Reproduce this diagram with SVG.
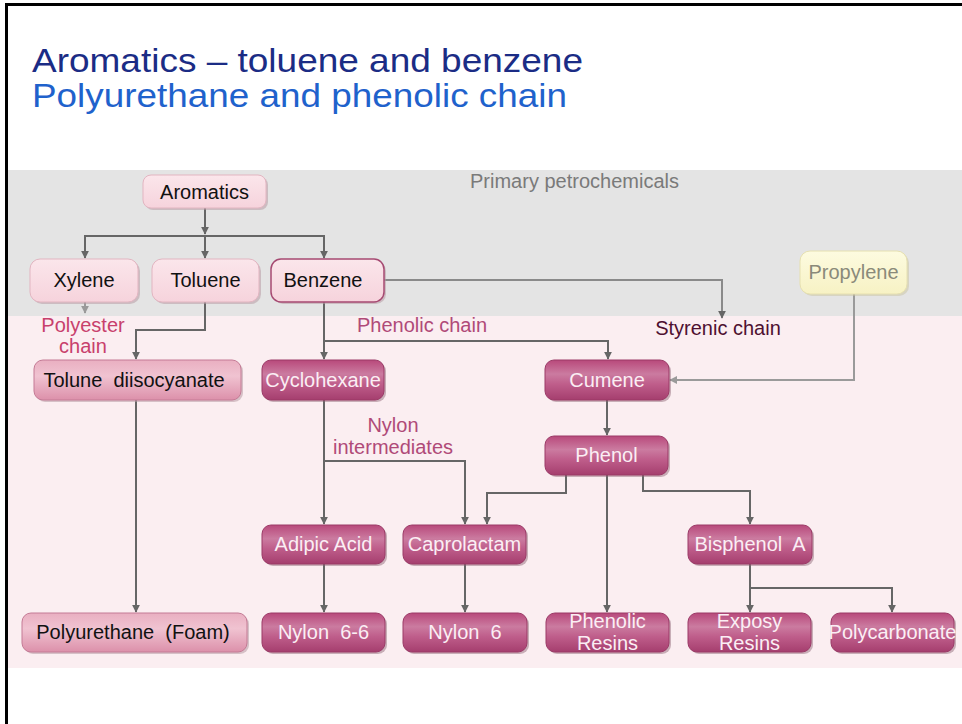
<svg xmlns="http://www.w3.org/2000/svg" width="962" height="724" viewBox="0 0 962 724">
  <defs>
    <linearGradient id="gDark" x1="0" y1="0" x2="0" y2="1">
      <stop offset="0" stop-color="#b8497b"/>
      <stop offset="0.35" stop-color="#cb7ba0"/>
      <stop offset="0.6" stop-color="#bf5e8b"/>
      <stop offset="1" stop-color="#a53e6e"/>
    </linearGradient>
    <linearGradient id="gMid" x1="0" y1="0" x2="0" y2="1">
      <stop offset="0" stop-color="#e9afc1"/>
      <stop offset="0.4" stop-color="#f0c3d1"/>
      <stop offset="1" stop-color="#dc90aa"/>
    </linearGradient>
    <linearGradient id="gLight" x1="0" y1="0" x2="0" y2="1">
      <stop offset="0" stop-color="#fbe6eb"/>
      <stop offset="1" stop-color="#f6d3dc"/>
    </linearGradient>
    <linearGradient id="gYellow" x1="0" y1="0" x2="0" y2="1">
      <stop offset="0" stop-color="#fdfbe0"/>
      <stop offset="1" stop-color="#f7f2c4"/>
    </linearGradient>
    <marker id="arr" viewBox="0 0 10 10" refX="9" refY="5" markerWidth="4" markerHeight="4" orient="auto">
      <path d="M0,0 L10,5 L0,10 z" fill="#666"/>
    </marker>
    <marker id="arrL" viewBox="0 0 10 10" refX="9" refY="5" markerWidth="4" markerHeight="4" orient="auto">
      <path d="M0,0 L10,5 L0,10 z" fill="#9a9a9a"/>
    </marker>
  </defs>
  <style>
    .t { font-family: "Liberation Sans", Arial, sans-serif; }
    .nt { font-family: "Liberation Sans", Arial, sans-serif; font-size: 20px; text-anchor: middle; }
    .dark rect { fill: url(#gDark); stroke: #9b3a67; stroke-width: 1; }
    .dark text { fill: #fbeef4; }
    .mid rect { fill: url(#gMid); stroke: #c47a95; stroke-width: 1; }
    .mid text { fill: #111; }
    .light rect { fill: url(#gLight); stroke: #e2b5c1; stroke-width: 1; }
    .light text { fill: #111; }
    .dark rect.sh { fill: #8a6070; stroke: none; opacity: 0.45; }
    .mid rect.sh, .light rect.sh { fill: #b89aa4; stroke: none; opacity: 0.55; }
    .c { fill: none; stroke: #666; stroke-width: 2; }
    .cl { fill: none; stroke: #9a9a9a; stroke-width: 2; }
    .lbl { font-family: "Liberation Sans", Arial, sans-serif; font-size: 20px; text-anchor: middle; }
  </style>

  <!-- page frame -->
  <rect x="0" y="0" width="962" height="724" fill="#ffffff"/>
  <rect x="5" y="3" width="957" height="3" fill="#000"/>
  <rect x="5" y="3" width="3" height="721" fill="#000"/>

  <!-- titles -->
  <text class="t" x="32" y="72" font-size="34" fill="#1b2c85" textLength="551" lengthAdjust="spacingAndGlyphs">Aromatics – toluene and benzene</text>
  <text class="t" x="32" y="107" font-size="34" fill="#1f62cc" textLength="535" lengthAdjust="spacingAndGlyphs">Polyurethane and phenolic chain</text>

  <!-- background bands -->
  <rect x="8" y="170" width="954" height="146" fill="#e4e4e4"/>
  <rect x="8" y="316" width="954" height="352" fill="#fbeef1"/>

  <text class="lbl" x="574.5" y="188" font-size="21" fill="#7a7a7a">Primary petrochemicals</text>

  <!-- connectors -->
  <g id="connectors">
    <path class="c" d="M205,208 V234" marker-end="url(#arr)"/>
    <path class="c" d="M85,258 V236 H324 V258" marker-end="url(#arr)"/>
    <path class="c" d="M205,236 V258" marker-end="url(#arr)"/>
    <path class="c" d="M85,236 V258" marker-end="url(#arr)"/>
    <path class="cl" d="M85,302 V313" marker-end="url(#arrL)"/>
    <path class="c" d="M205,302 V330 H136 V359" marker-end="url(#arr)"/>
    <path class="c" d="M384,280 H722 V318" marker-end="url(#arr)" style="stroke:#8a8a8a"/>
    <path class="c" d="M324,302 V359" marker-end="url(#arr)"/>
    <path class="c" d="M324,341 H608 V359" marker-end="url(#arr)"/>
    <path class="cl" d="M854,294 V380 H670" marker-end="url(#arrL)"/>
    <path class="c" d="M324,400 V524" marker-end="url(#arr)"/>
    <path class="c" d="M324,461 H465 V524" marker-end="url(#arr)"/>
    <path class="c" d="M607,400 V435" marker-end="url(#arr)"/>
    <path class="c" d="M566,475 V493 H487 V524" marker-end="url(#arr)"/>
    <path class="c" d="M607,475 V612" marker-end="url(#arr)"/>
    <path class="c" d="M643,475 V491 H750 V524" marker-end="url(#arr)"/>
    <path class="c" d="M324,564 V612" marker-end="url(#arr)"/>
    <path class="c" d="M465,564 V612" marker-end="url(#arr)"/>
    <path class="c" d="M750,564 V612" marker-end="url(#arr)"/>
    <path class="c" d="M750,588 H892 V612" marker-end="url(#arr)"/>
    <path class="c" d="M136,400 V612" marker-end="url(#arr)"/>
  </g>

  <!-- edge labels -->
  <text class="lbl" x="83" y="332" font-size="19.5" fill="#c8406c">Polyester</text>
  <text class="lbl" x="83" y="353" font-size="19.5" fill="#c8406c">chain</text>
  <text class="lbl" x="422" y="332" font-size="21" fill="#b04a78">Phenolic chain</text>
  <text class="lbl" x="718" y="335" font-size="18.5" fill="#4e1030">Styrenic chain</text>
  <text class="lbl" x="393" y="432" font-size="20.5" fill="#b04a78">Nylon</text>
  <text class="lbl" x="393" y="454" font-size="20.5" fill="#b04a78">intermediates</text>

  <!-- nodes -->
  <g id="aromatics" class="light">
    <rect class="sh" x="145" y="177" width="123" height="33" rx="8"/>
    <rect x="143" y="175" width="123" height="33" rx="8"/>
    <text class="nt" x="204.5" y="199">Aromatics</text>
  </g>
  <g id="xylene" class="light">
    <rect class="sh" x="32" y="261" width="108" height="43" rx="10"/>
    <rect x="30" y="259" width="108" height="43" rx="10"/>
    <text class="nt" x="84" y="287">Xylene</text>
  </g>
  <g id="toluene" class="light">
    <rect class="sh" x="154" y="261" width="107" height="43" rx="10"/>
    <rect x="152" y="259" width="107" height="43" rx="10"/>
    <text class="nt" x="205.5" y="287">Toluene</text>
  </g>
  <g id="benzene" class="light">
    <rect class="sh" x="273" y="261" width="113" height="43" rx="10"/>
    <rect x="271" y="259" width="113" height="43" rx="10" style="stroke:#a64a72;stroke-width:1.5"/>
    <text class="nt" x="323" y="287">Benzene</text>
  </g>
  <g id="propylene">
    <rect x="802" y="253" width="107" height="43" rx="10" fill="#c9c4a0" opacity="0.5"/>
    <rect x="800" y="251" width="107" height="43" rx="10" fill="url(#gYellow)" stroke="#e6e0b0"/>
    <text class="nt" x="853.5" y="279" fill="#8a8a7a">Propylene</text>
  </g>
  <g id="tolune-diisocyanate" class="mid">
    <rect class="sh" x="36" y="362" width="207" height="40" rx="9"/>
    <rect x="34" y="360" width="207" height="40" rx="9"/>
    <text class="nt" x="134" y="387" xml:space="preserve">Tolune  diisocyanate</text>
  </g>
  <g id="cyclohexane" class="dark">
    <rect class="sh" x="264" y="362" width="122" height="40" rx="9"/>
    <rect x="262" y="360" width="122" height="40" rx="9"/>
    <text class="nt" x="323" y="387">Cyclohexane</text>
  </g>
  <g id="cumene" class="dark">
    <rect class="sh" x="547" y="362" width="124" height="40" rx="9"/>
    <rect x="545" y="360" width="124" height="40" rx="9"/>
    <text class="nt" x="607" y="387">Cumene</text>
  </g>
  <g id="phenol" class="dark">
    <rect class="sh" x="547" y="438" width="123" height="39" rx="9"/>
    <rect x="545" y="436" width="123" height="39" rx="9"/>
    <text class="nt" x="606.5" y="462">Phenol</text>
  </g>
  <g id="adipic-acid" class="dark">
    <rect class="sh" x="264" y="527" width="123" height="39" rx="9"/>
    <rect x="262" y="525" width="123" height="39" rx="9"/>
    <text class="nt" x="323.5" y="551">Adipic Acid</text>
  </g>
  <g id="caprolactam" class="dark">
    <rect class="sh" x="405" y="527" width="123" height="39" rx="9"/>
    <rect x="403" y="525" width="123" height="39" rx="9"/>
    <text class="nt" x="464.5" y="551">Caprolactam</text>
  </g>
  <g id="bisphenol-a" class="dark">
    <rect class="sh" x="690" y="527" width="124" height="39" rx="9"/>
    <rect x="688" y="525" width="124" height="39" rx="9"/>
    <text class="nt" x="750" y="551" xml:space="preserve">Bisphenol  A</text>
  </g>
  <g id="polyurethane" class="mid">
    <rect class="sh" x="24" y="615" width="225" height="39" rx="9"/>
    <rect x="22" y="613" width="225" height="39" rx="9"/>
    <text class="nt" x="133" y="639" xml:space="preserve">Polyurethane  (Foam)</text>
  </g>
  <g id="nylon-6-6" class="dark">
    <rect class="sh" x="264" y="615" width="123" height="39" rx="9"/>
    <rect x="262" y="613" width="123" height="39" rx="9"/>
    <text class="nt" x="323.5" y="639" xml:space="preserve">Nylon  6-6</text>
  </g>
  <g id="nylon-6" class="dark">
    <rect class="sh" x="405" y="615" width="124" height="39" rx="9"/>
    <rect x="403" y="613" width="124" height="39" rx="9"/>
    <text class="nt" x="465" y="639" xml:space="preserve">Nylon  6</text>
  </g>
  <g id="phenolic-resins" class="dark">
    <rect class="sh" x="548" y="615" width="123" height="39" rx="9"/>
    <rect x="546" y="613" width="123" height="39" rx="9"/>
    <text class="nt" x="607.5" y="628">Phenolic</text>
    <text class="nt" x="607.5" y="650">Resins</text>
  </g>
  <g id="exposy-resins" class="dark">
    <rect class="sh" x="690" y="615" width="123" height="39" rx="9"/>
    <rect x="688" y="613" width="123" height="39" rx="9"/>
    <text class="nt" x="749.5" y="628">Exposy</text>
    <text class="nt" x="749.5" y="650">Resins</text>
  </g>
  <g id="polycarbonate" class="dark">
    <rect class="sh" x="833" y="615" width="123" height="39" rx="9"/>
    <rect x="831" y="613" width="123" height="39" rx="9"/>
    <text class="nt" x="892.5" y="639">Polycarbonate</text>
  </g>
</svg>
